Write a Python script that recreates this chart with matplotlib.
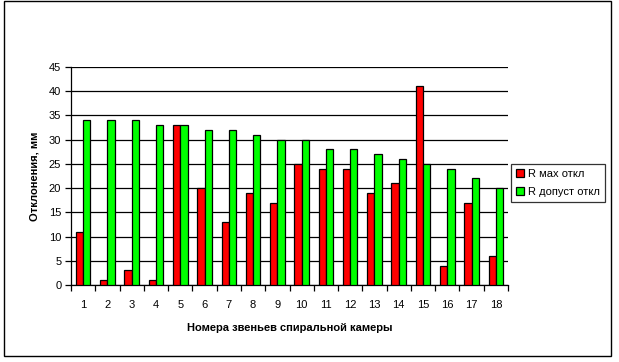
import matplotlib
matplotlib.use("Agg")
import matplotlib.pyplot as plt
import numpy as np
from matplotlib.patches import Rectangle

plt.rcParams['font.family'] = ['Liberation Sans', 'DejaVu Sans']

categories = [str(i) for i in range(1, 19)]
r_max = [11, 1, 3, 1, 33, 20, 13, 19, 17, 25, 24, 24, 19, 21, 41, 4, 17, 6]
r_dop = [34, 34, 34, 33, 33, 32, 32, 31, 30, 30, 28, 28, 27, 26, 25, 24, 22, 20]
yticks = list(range(0, 50, 5))

fig = plt.figure(figsize=(6.19, 3.62), dpi=100)
fig.patches.append(Rectangle((4/619, 1 - 356/362), 607/619, 355/362,
                             transform=fig.transFigure, fill=False,
                             edgecolor='black', linewidth=1.0))
ax = fig.add_axes([71/619, 1 - 285/362, 437/619, 218/362])

x = np.arange(len(categories))
w = 0.3
ax.bar(x - w/2, r_max, width=w, color='#ff0000', edgecolor='black', linewidth=0.9,
       label='R мах откл', zorder=3)
ax.bar(x + w/2, r_dop, width=w, color='#00ff00', edgecolor='black', linewidth=0.9,
       label='R допуст откл', zorder=3)

ax.set_xlim(-0.5, len(categories) - 0.5)
ax.set_ylim(0, 45)
ax.set_yticks(yticks)
ax.set_yticklabels([str(v) for v in yticks], fontsize=8)
ax.set_xticks(x)
ax.set_xticklabels(categories, fontsize=8)
ax.set_xticks(np.arange(-0.5, len(categories)), minor=True)
ax.tick_params(axis='x', which='major', length=0, pad=11)
ax.tick_params(axis='x', which='minor', length=4, width=0.9, direction='out')
ax.tick_params(axis='y', length=4, width=0.9, direction='out', pad=3)
ax.yaxis.grid(True, color='black', linewidth=0.9, zorder=0)
ax.set_axisbelow(True)
for s in ['top', 'right']:
    ax.spines[s].set_visible(False)
for s in ['left', 'bottom']:
    ax.spines[s].set_linewidth(0.9)

ax.set_ylabel('Отклонения, мм', fontsize=8, fontweight='bold', labelpad=7)
ax.set_xlabel('Номера звеньев спиральной камеры', fontsize=8, fontweight='bold', labelpad=9)

leg = fig.legend(loc='upper left', bbox_to_anchor=(511/619, 1 - 164/362),
                 fontsize=8, frameon=True, fancybox=False, edgecolor='black',
                 handlelength=0.7, handleheight=0.7, handletextpad=0.4,
                 borderpad=0.45, labelspacing=0.7, borderaxespad=0)
leg.get_frame().set_linewidth(0.9)

fig.savefig('out.png', dpi=100)
